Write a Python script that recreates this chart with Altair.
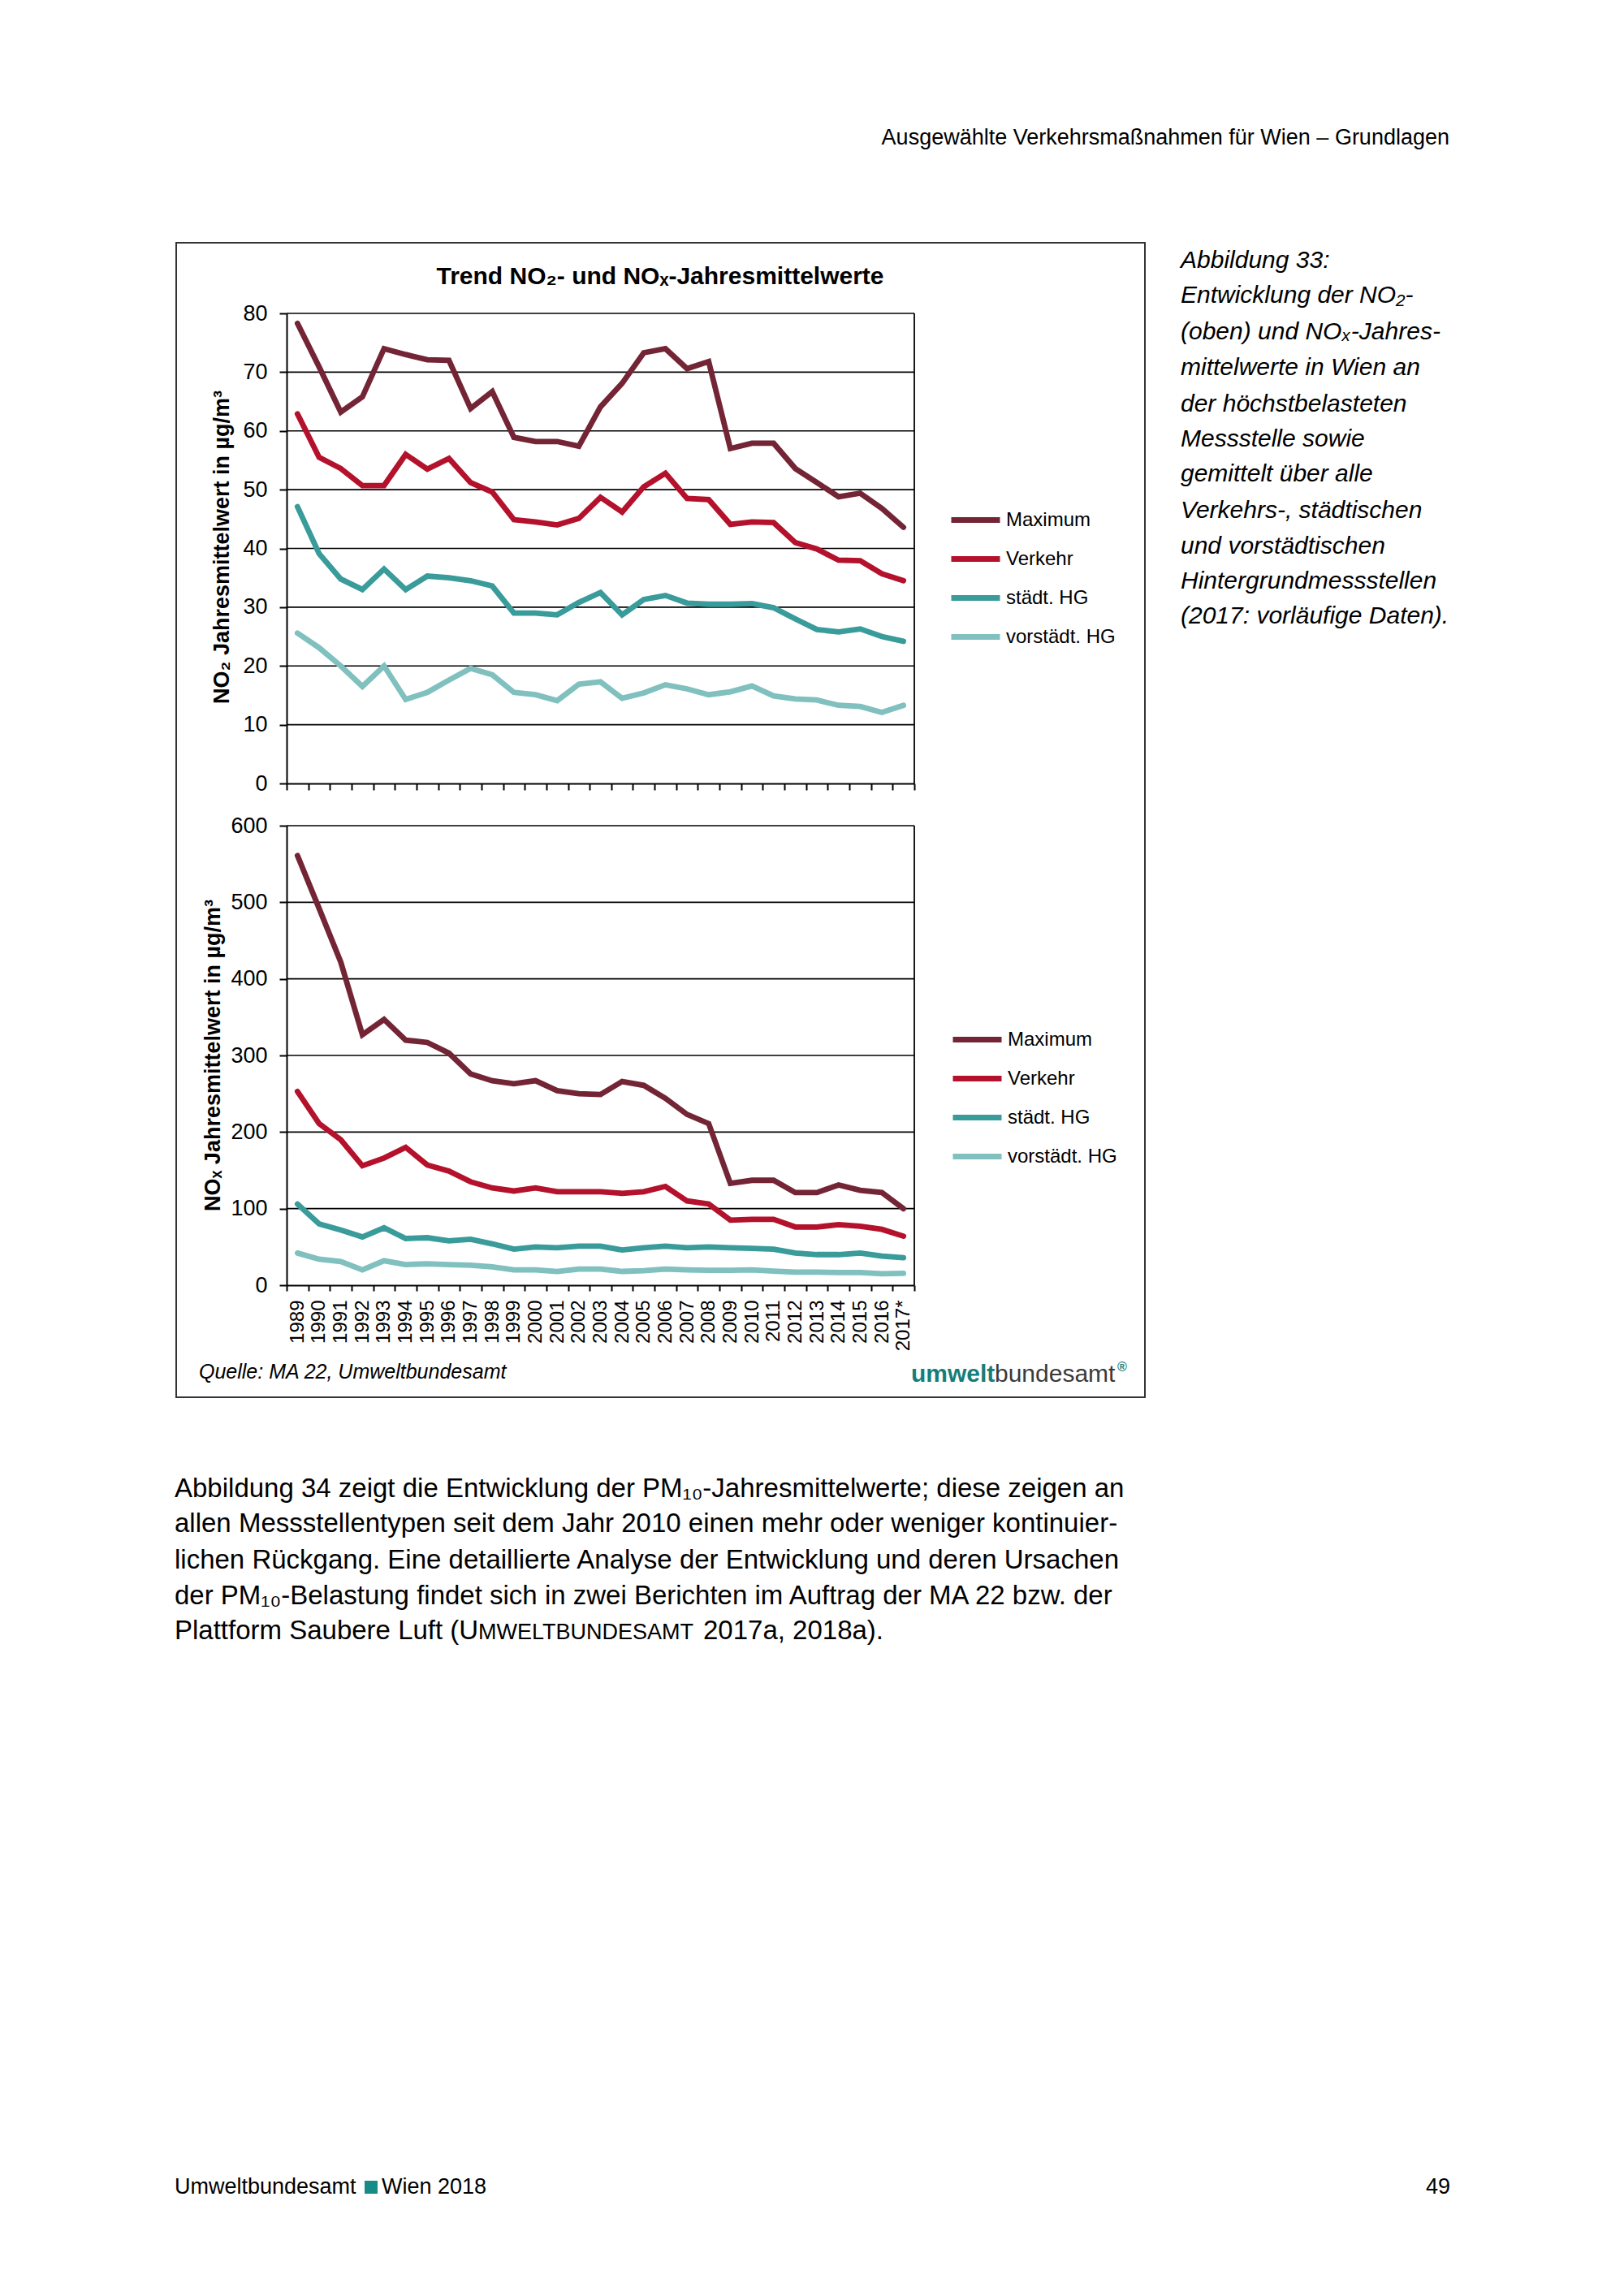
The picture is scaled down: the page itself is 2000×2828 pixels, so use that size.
import altair as alt
import pandas as pd

W, H = 1984, 2812
M = 8
FONT = "Liberation Sans"

years = ["1989", "1990", "1991", "1992", "1993", "1994", "1995", "1996", "1997", "1998",
         "1999", "2000", "2001", "2002", "2003", "2004", "2005", "2006", "2007", "2008",
         "2009", "2010", "2011", "2012", "2013", "2014", "2015", "2016", "2017*"]
series = ["Maximum", "Verkehr", "städt. HG", "vorstädt. HG"]
colors = ["#742535", "#B4122C", "#3A9B9B", "#80C0BF"]

no2_max = [78.3, 70.9, 63.2, 65.8, 74.0, 73.0, 72.1, 72.0, 63.8, 66.7, 58.9, 58.2, 58.2, 57.4, 64.1,
           68.1, 73.3, 74.0, 70.6, 71.8, 57.0, 57.9, 57.9, 53.6, 51.2, 48.8, 49.4, 46.8, 43.6]
no2_verkehr = [62.9, 55.5, 53.6, 50.7, 50.7, 56.0, 53.5, 55.3, 51.2, 49.6, 44.9, 44.5, 44.0, 45.1, 48.7,
               46.2, 50.5, 52.8, 48.5, 48.3, 44.1, 44.5, 44.4, 41.0, 39.9, 38.0, 37.9, 35.7, 34.5]
no2_staedt = [47.1, 39.1, 34.8, 33.0, 36.5, 33.0, 35.3, 35.0, 34.5, 33.6, 29.0, 29.0, 28.7, 30.8, 32.5,
              28.7, 31.3, 32.0, 30.7, 30.5, 30.5, 30.6, 29.9, 28.0, 26.2, 25.8, 26.3, 25.0, 24.2]
no2_vorstaedt = [25.6, 23.1, 20.0, 16.5, 20.0, 14.3, 15.5, 17.6, 19.6, 18.5, 15.5, 15.1, 14.1, 16.9, 17.3,
                 14.5, 15.4, 16.8, 16.1, 15.1, 15.6, 16.6, 14.9, 14.4, 14.2, 13.3, 13.1, 12.1, 13.3]

nox_max = [561, 492, 422, 327, 347, 320, 317, 303, 276, 267, 263, 267, 254, 250, 249,
           266, 261, 244, 223, 211, 133, 137, 137, 121, 121, 131, 124, 121, 100]
nox_verkehr = [253, 211, 190, 156, 166, 180, 157, 149, 135, 127, 123, 127, 122, 122, 122,
               120, 122, 129, 110, 106, 85, 86, 86, 76, 76, 79, 77, 73, 64]
nox_staedt = [106, 80, 72, 63, 75, 61, 62, 58, 60, 54, 47, 50, 49, 51, 51,
              46, 49, 51, 49, 50, 49, 48, 47, 42, 40, 40, 42, 38, 36]
nox_vorstaedt = [42, 34, 31, 20, 32, 27, 28, 27, 26, 24, 20, 20, 18, 21, 21,
                 18, 19, 21, 20, 19.5, 19.5, 20, 18.5, 17, 17, 16.5, 16.5, 15, 15.5]

no2_ticks = [0, 10, 20, 30, 40, 50, 60, 70, 80]
nox_ticks = [0, 100, 200, 300, 400, 500, 600]

chart_title = "Trend NO₂- und NOₓ-Jahresmittelwerte"
no2_ytitle = "NO₂ Jahresmittelwert in µg/m³"
nox_ytitle = "NOₓ Jahresmittelwert in µg/m³"
source_text = "Quelle: MA 22, Umweltbundesamt"
header_text = "Ausgewählte Verkehrsmaßnahmen für Wien – Grundlagen"
caption_lines = ["Abbildung 33:", "Entwicklung der NO₂-", "(oben) und NOₓ-Jahres-",
                 "mittelwerte in Wien an", "der höchstbelasteten", "Messstelle sowie",
                 "gemittelt über alle", "Verkehrs-, städtischen", "und vorstädtischen",
                 "Hintergrundmessstellen", "(2017: vorläufige Daten)."]
body_lines = ["Abbildung 34 zeigt die Entwicklung der PM₁₀-Jahresmittelwerte; diese zeigen an",
              "allen Messstellentypen seit dem Jahr 2010 einen mehr oder weniger kontinuier-",
              "lichen Rückgang. Eine detaillierte Analyse der Entwicklung und deren Ursachen",
              "der PM₁₀-Belastung findet sich in zwei Berichten im Auftrag der MA 22 bzw. der"]
body_last = ["Plattform Saubere Luft (U", "MWELTBUNDESAMT", "2017a, 2018a)."]
footer_left = "Umweltbundesamt"
footer_mid = "Wien 2018"
page_number = "49"


def long(vals):
    rows = []
    for s, v in zip(series, vals):
        for y, val in zip(years, v):
            rows.append({"year": y, "series": s, "value": val})
    return pd.DataFrame(rows)


no2_df = long([no2_max, no2_verkehr, no2_staedt, no2_vorstaedt])
nox_df = long([nox_max, nox_verkehr, nox_staedt, nox_vorstaedt])

PX0, PX1 = 353, 1126  # page x of plot area


def label(s, x, y, size, align="left", baseline="middle", style=None, weight=None,
          color="black", angle=None):
    kw = dict(align=align, baseline=baseline, fontSize=size, font=FONT, color=color)
    if style:
        kw["fontStyle"] = style
    if weight:
        kw["fontWeight"] = weight
    if angle is not None:
        kw["angle"] = angle
    return alt.Chart(pd.DataFrame({"t": [s]})).mark_text(**kw).encode(
        x=alt.value(x - M), y=alt.value(y - M), text="t:N")


def panel(df, ticks, ybot, ytop, show_labels, leg_x, leg_y):
    xs = alt.Scale(type="band", domain=years, range=[PX0 - M, PX1 - M],
                   paddingInner=0, paddingOuter=0)
    ys = alt.Scale(domain=[ticks[0], ticks[-1]], range=[ybot - M, ytop - M], nice=False, zero=False)
    xaxis_kw = dict(orient="bottom", offset=-(H - (ybot - M)), title=None, tickBand="extent",
                    grid=False, domainColor="black", domainWidth=2, tickColor="black",
                    tickWidth=2, tickSize=8)
    if show_labels:
        xaxis_kw.update(labels=True, labelAngle=270, labelAlign="right", labelBaseline="middle",
                        labelFontSize=24, labelFont=FONT, labelColor="black", labelPadding=11,
                        labelOverlap=False, labelBound=False, labelFlush=False, tickSize=7)
    else:
        xaxis_kw.update(labels=False)
    yaxis = alt.Axis(orient="left", offset=-(PX0 - M), values=ticks, title=None, grid=False,
                     tickSize=9, tickWidth=2, tickColor="black", domainColor="black",
                     domainWidth=2, labelFontSize=27, labelFont=FONT, labelColor="black",
                     labelPadding=15, labelFlush=False, labelOverlap=False, zindex=1)
    grid = alt.Chart(pd.DataFrame({"value": ticks[1:]})).mark_rule(color="black", strokeWidth=1.6).encode(
        x=alt.value(PX0 - M), x2=alt.value(PX1 - M), y=alt.Y("value:Q", scale=ys, axis=yaxis))
    border = alt.Chart(pd.DataFrame({"value": [ticks[0]], "top": [ticks[-1]]})).mark_rule(
        color="black", strokeWidth=1.8).encode(
        x=alt.value(PX1 - M), y=alt.Y("value:Q", scale=ys, axis=yaxis), y2="top:Q")
    lines = alt.Chart(df).mark_line(strokeWidth=6.8, strokeCap="round").encode(
        x=alt.X("year:N", sort=years, scale=xs, axis=alt.Axis(**xaxis_kw), bandPosition=0.5),
        y=alt.Y("value:Q", scale=ys, axis=yaxis),
        color=alt.Color("series:N", sort=series, scale=alt.Scale(domain=series, range=colors),
                        legend=alt.Legend(orient="none", legendX=leg_x - M, legendY=leg_y - M,
                                          title=None, symbolType="stroke", symbolSize=3600,
                                          symbolStrokeWidth=6.8, labelFontSize=24, labelFont=FONT,
                                          labelColor="black", labelOffset=4, rowPadding=0,
                                          padding=0)),
    )
    return alt.layer(grid, border, lines)


layers = []
# frame
layers.append(alt.Chart(pd.DataFrame({"t": [0]})).mark_rect(
    fillOpacity=0, stroke="#333333", strokeWidth=2).encode(
    x=alt.value(217 - M), x2=alt.value(1410 - M), y=alt.value(299 - M), y2=alt.value(1721 - M)))

layers.append(label(header_text, 1785, 170, 27, align="right"))
layers.append(label(chart_title, 813, 341, 30, align="center", weight="bold"))
layers.append(label(no2_ytitle, 274, 674, 27, align="center", weight="bold", angle=270))
layers.append(label(nox_ytitle, 263, 1300, 27, align="center", weight="bold", angle=270))
layers.append(label(source_text, 245, 1698, 25, baseline="alphabetic", style="italic"))
layers.append(label("umwelt", 1122, 1702, 30, baseline="alphabetic", weight="bold", color="#167D79"))
layers.append(label("bundesamt", 1225, 1702, 30, baseline="alphabetic", color="#3A3A3A"))
layers.append(label("®", 1382, 1684, 16, align="center", weight="bold", color="#167D79"))

cap_y = [321, 364, 409, 453, 498, 541, 584, 629, 673, 716, 759]
for s, y in zip(caption_lines, cap_y):
    layers.append(label(s, 1454, y, 30, style="italic"))

body_y = [1834, 1877, 1922, 1966, 2009]
for s, y in zip(body_lines, body_y[:4]):
    layers.append(label(s, 215, y, 33))
layers.append(label(body_last[0], 215, body_y[4], 33))
layers.append(label(body_last[1], 589, body_y[4] + 2, 27))
layers.append(label(body_last[2], 866, body_y[4], 33))

layers.append(label(footer_left, 215, 2694, 27))
layers.append(alt.Chart(pd.DataFrame({"t": [0]})).mark_rect(color="#178C87").encode(
    x=alt.value(449 - M), x2=alt.value(465 - M), y=alt.value(2686 - M), y2=alt.value(2702 - M)))
layers.append(label(footer_mid, 470, 2694, 27))
layers.append(label(page_number, 1786, 2694, 27, align="right"))

top = panel(no2_df, no2_ticks, 965, 386, False, 1168, 607)
bottom = panel(nox_df, nox_ticks, 1583, 1017, True, 1170, 1247)
layers += [top, bottom]

chart = alt.layer(*layers).resolve_scale(
    x="independent", y="independent", color="independent"
).properties(
    width=W, height=H, autosize=alt.AutoSizeParams(type="none"), padding=0, background="white"
).configure_view(stroke=None)

chart.save("out.html", embed_options={"renderer": "svg", "actions": False})
